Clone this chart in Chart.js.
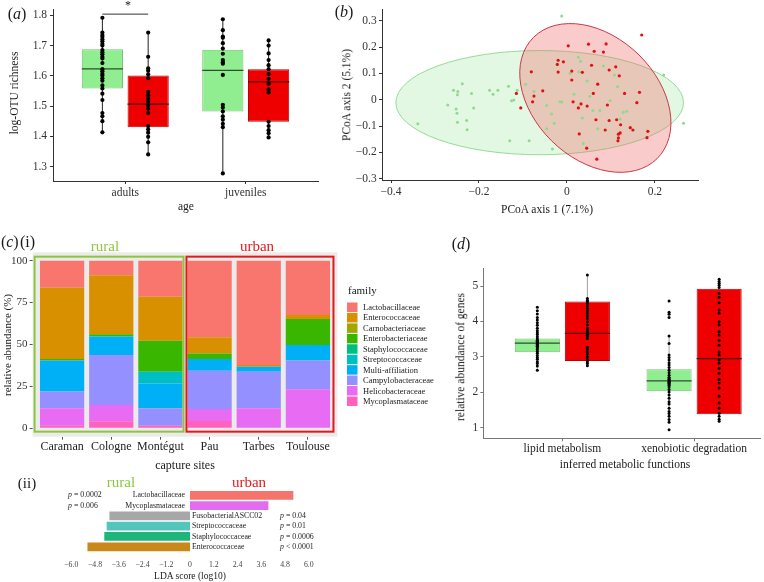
<!DOCTYPE html>
<html><head><meta charset="utf-8">
<script src="https://cdn.jsdelivr.net/npm/chart.js@4/dist/chart.umd.min.js"></script>
<style>
html,body{margin:0;padding:0;background:#fff;overflow:hidden;width:764px;height:582px;}
body{position:relative;font-family:'Liberation Serif','Times New Roman',serif;color:#1a1a1a;}
canvas{position:absolute;display:block;}
.t{position:absolute;white-space:nowrap;transform:translate(-50%,-50%);line-height:1;}
.rot{transform:translate(-50%,-50%) rotate(-90deg);}
</style></head><body>
<canvas id="ca" width="330" height="215" style="left:0;top:0"></canvas>
<canvas id="cb" width="424" height="220" style="left:340px;top:0"></canvas>
<canvas id="cc" width="445" height="240" style="left:0;top:230px"></canvas>
<canvas id="cd" width="324" height="235" style="left:440px;top:240px"></canvas>
<canvas id="ce" width="340" height="112" style="left:0;top:470px"></canvas>

<div class="t" style="left:17px;top:14px;font-size:16px">(<i>a</i>)</div>
<div class="t" style="left:128px;top:5px;font-size:12px">*</div>
<div class="t rot" style="left:15px;top:93px;font-size:11.5px">log-OTU richness</div>
<div class="t" style="left:186px;top:207px;font-size:11.5px">age</div>

<div class="t" style="left:344px;top:12px;font-size:16px">(<i>b</i>)</div>
<div class="t rot" style="left:347px;top:95px;font-size:11.5px">PCoA axis 2 (5.1%)</div>
<div class="t" style="left:547px;top:210px;font-size:11.5px">PCoA axis 1 (7.1%)</div>

<div class="t" style="left:18px;top:242px;font-size:16px">(<i>c</i>)&#8202;(i)</div>
<div class="t" style="left:105px;top:246px;font-size:15px;color:#8cc63f">rural</div>
<div class="t" style="left:257px;top:246px;font-size:15px;color:#e31a1c">urban</div>
<div class="t rot" style="left:7px;top:345px;font-size:11px">relative abundance (%)</div>
<div class="t" style="left:185px;top:465px;font-size:12px">capture sites</div>

<div class="t" style="left:461px;top:244px;font-size:16px">(<i>d</i>)</div>
<div class="t rot" style="left:461px;top:357px;font-size:11.5px">relative abundance of genes</div>
<div class="t" style="left:625px;top:465px;font-size:11.5px">inferred metabolic functions</div>

<div class="t" style="left:27px;top:483px;font-size:15px">(ii)</div>
<div class="t" style="left:121px;top:482px;font-size:15px;color:#8cc63f">rural</div>
<div class="t" style="left:249px;top:482px;font-size:15px;color:#e31a1c">urban</div>
<div class="t" style="left:190px;top:577px;font-size:9.5px">LDA score (log10)</div>

<script>
// ======================= DATA =======================
// (a) log-OTU richness by age
const ageGroups = ['adults', 'juveniles'];
const richnessTicks = [1.3, 1.4, 1.5, 1.6, 1.7, 1.8];
// box statistics per age group: [lower whisker, q1, median, q3, upper whisker]
const richnessBoxRural = [[1.413, 1.558, 1.623, 1.688, 1.792], [1.277, 1.482, 1.618, 1.686, 1.787]];
const richnessBoxUrban = [[1.340, 1.430, 1.506, 1.601, 1.743], [1.396, 1.448, 1.580, 1.622, 1.717]];
const richnessRuralAdults = [1.792,1.743,1.735,1.729,1.721,1.714,1.706,1.700,1.685,1.678,1.671,1.663,1.657,1.642,1.622,1.615,1.607,1.601,1.592,1.584,1.568,1.558,1.541,1.520,1.477,1.466,1.450,1.413];
const richnessUrbanAdults = [1.743,1.663,1.625,1.617,1.605,1.592,1.547,1.536,1.525,1.514,1.502,1.491,1.477,1.434,1.423,1.412,1.398,1.380,1.340];
const richnessRuralJuveniles = [1.787,1.751,1.730,1.726,1.708,1.690,1.673,1.652,1.645,1.640,1.603,1.504,1.495,1.482,1.466,1.455,1.441,1.430,1.277];
const richnessUrbanJuveniles = [1.717,1.700,1.674,1.652,1.635,1.622,1.606,1.590,1.574,1.555,1.545,1.448,1.434,1.420,1.410,1.396];
const richnessSignifGroup = [0];      // age group with significant difference
const richnessSignifLevel = [1.804];  // bracket height (log-OTU)

// (b) PCoA
const pcoaXTicks = [-0.4, -0.2, 0, 0.2];
const pcoaXTickLabels = ['\u22120.4', '\u22120.2', '0', '0.2'];
const pcoaYTicks = [-0.3, -0.2, -0.1, 0, 0.1, 0.2, 0.3];
const pcoaYTickLabels = ['\u22120.3', '\u22120.2', '\u22120.1', '0', '0.1', '0.2', '0.3'];
const pcoaRural = [[-0.339,-0.091],[-0.271,-0.020],[-0.258,0.036],[-0.248,0.031],[-0.249,0.019],[-0.238,0.061],[-0.217,0.024],[-0.212,-0.031],[-0.252,-0.035],[-0.250,-0.051],[-0.249,-0.086],[-0.228,-0.079],[-0.227,-0.114],[-0.176,0.036],[-0.168,0.021],[-0.157,0.036],[-0.133,0.051],[-0.126,-0.004],[-0.121,-0.001],[-0.113,0.036],[-0.130,-0.156],[-0.012,0.318],[-0.094,0.059],[-0.086,-0.156],[-0.033,-0.187],[-0.075,0.031],[-0.046,-0.022],[-0.035,-0.054],[-0.029,-0.089],[-0.046,-0.110],[-0.016,-0.008],[-0.012,-0.009],[0.026,0.161],[0.031,0.146],[0.007,0.100],[0.027,0.106],[0.046,0.071],[0.016,0.021],[0.052,0.013],[0.059,-0.041],[0.075,-0.041],[0.083,0.128],[0.108,0.094],[0.115,0.049],[0.128,-0.048],[0.136,-0.044],[0.121,-0.073],[0.070,-0.110],[0.037,-0.166],[0.220,0.094],[0.265,-0.089],[0.035,-0.069],[0.098,-0.004]];
const pcoaUrban = [[0.170,0.246],[0.003,0.205],[0.049,0.211],[0.089,0.212],[0.062,0.184],[0.083,0.181],[-0.020,0.150],[-0.008,0.144],[-0.022,0.134],[-0.020,0.105],[0.011,0.109],[0.035,0.104],[0.056,0.131],[0.111,0.125],[0.096,0.113],[0.119,0.091],[0.011,0.075],[0.070,0.059],[-0.081,0.106],[-0.115,0.024],[-0.055,0.034],[-0.075,0.014],[0.060,0.024],[0.131,0.024],[0.165,0.028],[-0.078,-0.008],[0.014,-0.008],[0.032,-0.016],[0.046,-0.024],[0.026,-0.031],[0.092,-0.020],[-0.105,-0.031],[0.159,-0.011],[0.066,-0.076],[0.096,-0.079],[0.113,-0.076],[0.122,-0.095],[0.144,-0.106],[0.150,-0.115],[0.087,-0.115],[0.184,-0.120],[0.028,-0.130],[0.117,-0.131],[0.117,-0.145],[0.121,-0.126],[0.116,-0.156],[0.182,-0.144],[0.045,-0.184],[0.068,-0.226]];
// confidence ellipses: centre and two semi-axis vectors (PCoA units)
const ellipseRuralCenter = [-0.062, -0.011];
const ellipseRuralAxes = [[0.327, 0], [0, 0.198]];
const ellipseUrbanCenter = [0.0646, 0.0068];
const ellipseUrbanAxes = [[0.1403, -0.2307], [-0.0993, -0.1633]];

// (c)(i) relative abundance per capture site
const sites = ['Caraman', 'Cologne', 'Mont\u00e9gut', 'Pau', 'Tarbes', 'Toulouse'];
const siteHabitat = ['rural', 'rural', 'rural', 'urban', 'urban', 'urban'];
const abundanceTicks = [0, 25, 50, 75, 100];
const families = ['Lactobacillaceae','Enterococcaceae','Carnobacteriaceae','Enterobacteriaceae','Staphylococcaceae','Streptococcaceae','Multi-affiliation','Campylobacteraceae','Helicobacteraceae','Mycoplasmataceae'];
const abundLactobacillaceae   = [16.1, 8.7, 21.5, 45.7, 62.2, 32.4];
const abundEnterococcaceae    = [42.5, 35.2, 26.2, 9.6, 1.0, 2.4];
const abundCarnobacteriaceae  = [0, 0, 0, 0, 0, 0];
const abundEnterobacteriaceae = [1.0, 1.4, 18.5, 3.3, 0, 15.5];
const abundStaphylococcaceae  = [0, 0, 0, 0, 0, 0];
const abundStreptococcaceae   = [0, 0, 7.0, 0, 0, 0];
const abundMultiAffiliation   = [18.5, 11.0, 14.9, 7.0, 3.0, 9.3];
const abundCampylobacteraceae = [10.0, 29.8, 10.3, 22.9, 21.9, 17.1];
const abundHelicobacteraceae  = [10.3, 9.7, 0, 7.1, 11.9, 23.3];
const abundMycoplasmataceae   = [1.6, 4.2, 1.6, 4.4, 0, 0];

// (d) inferred metabolic functions
const metabolicFunctions = ['lipid metabolism', 'xenobiotic degradation'];
const geneTicks = [1, 2, 3, 4, 5];
const geneBoxRural = [[2.62, 3.13, 3.39, 3.52, 4.11], [1.15, 2.03, 2.32, 2.65, 3.59]];
const geneBoxUrban = [[2.72, 2.88, 3.66, 4.56, 5.33], [1.15, 1.38, 2.95, 4.92, 5.20]];
const genesRuralLipid = [4.40,4.30,4.21,4.11,4.04,3.96,3.89,3.81,3.74,3.68,3.63,3.57,3.51,3.47,3.45,3.44,3.42,3.40,3.38,3.36,3.35,3.32,3.30,3.29,3.25,3.21,3.15,3.10,3.04,2.98,2.93,2.86,2.81,2.74,2.62];
const genesUrbanLipid = [5.31,4.65,4.60,4.56,4.51,4.44,4.37,4.30,4.23,4.15,4.08,3.99,3.90,3.80,3.74,3.68,3.64,3.61,3.57,3.52,3.27,3.21,3.14,3.08,3.00,2.93,2.86,2.81,2.75];
const genesRuralXeno = [4.58,4.26,4.20,4.11,3.59,3.38,3.05,2.98,2.91,2.83,2.77,2.70,2.62,2.55,2.48,2.42,2.40,2.36,2.35,2.32,2.30,2.28,2.25,2.23,2.20,2.15,2.08,2.01,1.92,1.83,1.73,1.67,1.55,1.46,1.40,1.32,1.23,1.15,0.94];
const genesUrbanXeno = [5.19,5.13,5.08,5.02,4.96,4.79,4.68,4.53,4.32,4.23,3.99,3.90,3.71,3.62,3.47,3.33,3.14,3.05,2.91,2.82,2.68,2.54,2.36,2.26,2.12,1.89,1.70,1.55,1.41,1.32,1.24,1.18];

// (c)(ii) LEfSe LDA scores
const ldaTaxa = ['Lactobacillaceae', 'Mycoplasmataceae', 'FusobacterialASCC02', 'Streptococcaceae', 'Staphylococcaceae', 'Enterococcaceae'];
const ldaScores = [5.22, 3.96, -4.07, -4.21, -4.33, -5.18];
const ldaPValues = ['= 0.0002', '= 0.006', '= 0.04', '= 0.01', '= 0.0006', '< 0.0001'];
const ldaTicks = [-6, -4.8, -3.6, -2.4, -1.2, 0, 1.2, 2.4, 3.6, 4.8, 6];
const ldaTickLabels = ['\u22126.0', '\u22124.8', '\u22123.6', '\u22122.4', '\u22121.2', '0', '1.2', '2.4', '3.6', '4.8', '6.0'];

// ======================= STYLE =======================
const SERIF = "'Liberation Serif','Times New Roman',serif";
Chart.defaults.font.family = SERIF;
Chart.defaults.color = '#333';
Chart.defaults.animation = false;
Chart.defaults.plugins.legend.display = false;
Chart.defaults.plugins.tooltip.enabled = false;

const familyColors = ['#F8766D','#D89000','#A3A500','#39B600','#00BF7D','#00BFC4','#00B0F6','#9590FF','#E76BF3','#FF62BC'];
const ldaColors = ['#F5746C','#E36CEE','#A7A7A7','#52C6BA','#1DB57A','#C8891A'];
const GREEN = {fill:'#90EE90', border:'#74c174'};
const RED = {fill:'#EE0000', border:'#b80000'};

const BOX_CAT = 0.76, BOX_BAR = 0.9;
const DODGE = BOX_CAT / 4;
const HALF_BOX = BOX_CAT * BOX_BAR / 4;

function fixedTicks(values) { return (s) => { s.ticks = values.map(v => ({value: v})); }; }

function boxDatasets(boxes, pointSets, side, st) {
  const cx = i => i + 1 + side * DODGE;
  const whisk = [], med = [], pts = [];
  boxes.forEach((b, i) => {
    whisk.push({x: cx(i), y: b[0]}, {x: cx(i), y: b[4]}, {x: cx(i), y: null});
    med.push({x: cx(i) - HALF_BOX, y: b[2]}, {x: cx(i) + HALF_BOX, y: b[2]}, {x: cx(i) + HALF_BOX, y: null});
  });
  pointSets.forEach((arr, i) => arr.forEach(v => pts.push({x: cx(i), y: v})));
  return [
    {type: 'line', data: whisk, borderColor: st.whisker, borderWidth: 1, pointRadius: 0, spanGaps: false, order: 5},
    {type: 'bar', data: boxes.map((b, i) => ({x: i + 1, y: [b[1], b[3]]})), backgroundColor: st.fill, borderColor: st.border,
     borderWidth: 1, borderSkipped: false, categoryPercentage: BOX_CAT, barPercentage: BOX_BAR, order: 4},
    {type: 'line', data: med, borderColor: st.median, borderWidth: 1.2, pointRadius: 0, spanGaps: false, order: 3},
    {type: 'scatter', data: pts, pointRadius: st.r, pointBackgroundColor: '#000', pointBorderWidth: 0, order: 2}
  ];
}

function axisCommon(color) {
  return {
    grid: {display: true, drawOnChartArea: false, drawTicks: true, tickLength: 3, color: color, offset: false},
    border: {display: true, color: color, width: 1}
  };
}

// ======================= (a) =======================
const sigData = [];
richnessSignifGroup.forEach((g, k) => {
  sigData.push({x: g + 1 - DODGE, y: richnessSignifLevel[k]}, {x: g + 1 + DODGE, y: richnessSignifLevel[k]}, {x: g + 1 + DODGE, y: null});
});
new Chart(document.getElementById('ca'), {
  type: 'bar',
  data: {datasets: [
    ...boxDatasets(richnessBoxRural, [richnessRuralAdults, richnessRuralJuveniles], -1, {...GREEN, whisker: '#222', median: '#2d4f2d', r: 2.1}),
    ...boxDatasets(richnessBoxUrban, [richnessUrbanAdults, richnessUrbanJuveniles], 1, {...RED, whisker: '#222', median: '#5a0000', r: 2.1}),
    {type: 'line', data: sigData, borderColor: '#333', borderWidth: 1, pointRadius: 0, spanGaps: false, order: 1, clip: false}
  ]},
  options: {
    responsive: false, devicePixelRatio: 1,
    layout: {padding: {left: 0, top: 6, right: 12, bottom: 14}},
    scales: {
      x: {type: 'linear', min: 0.4, max: 2.6, offset: false, ...axisCommon('#333'),
          afterBuildTicks: fixedTicks(ageGroups.map((_, i) => i + 1)),
          afterFit: s => { s.height = 20; },
          ticks: {autoSkip: false, maxRotation: 0, padding: 2.5, font: {size: 11.5}, color: '#333', callback: (v, i) => ageGroups[i]}},
      y: {type: 'linear', min: 1.252, max: 1.818, ...axisCommon('#333'),
          afterBuildTicks: fixedTicks(richnessTicks),
          afterFit: s => { s.width = 53; },
          ticks: {padding: 3, font: {size: 11.5}, color: '#333', callback: v => v.toFixed(1)}}
    }
  }
});

// ======================= (b) =======================
const ellipsePlugin = {
  id: 'ellipses',
  beforeDatasetsDraw(chart, args, opts) {
    const {ctx, scales: {x, y}, chartArea: a} = chart;
    ctx.save();
    ctx.beginPath(); ctx.rect(a.left, a.top, a.right - a.left, a.bottom - a.top); ctx.clip();
    opts.items.forEach(e => {
      const cx = x.getPixelForValue(e.center[0]), cy = y.getPixelForValue(e.center[1]);
      const ax = x.getPixelForValue(e.center[0] + e.axes[0][0]) - cx, ay = y.getPixelForValue(e.center[1] + e.axes[0][1]) - cy;
      const bx = x.getPixelForValue(e.center[0] + e.axes[1][0]) - cx, by = y.getPixelForValue(e.center[1] + e.axes[1][1]) - cy;
      ctx.save(); ctx.beginPath(); ctx.transform(ax, ay, bx, by, cx, cy); ctx.arc(0, 0, 1, 0, Math.PI * 2); ctx.restore();
      ctx.fillStyle = e.fill; ctx.fill();
      ctx.strokeStyle = e.stroke; ctx.lineWidth = 1; ctx.stroke();
    });
    ctx.restore();
  }
};
new Chart(document.getElementById('cb'), {
  type: 'scatter',
  data: {datasets: [
    {data: pcoaRural.map(p => ({x: p[0], y: p[1]})), pointRadius: 1.5, pointBackgroundColor: '#8fda8f', pointBorderWidth: 0, order: 2},
    {data: pcoaUrban.map(p => ({x: p[0], y: p[1]})), pointRadius: 1.6, pointBackgroundColor: '#dd1111', pointBorderWidth: 0, order: 1}
  ]},
  plugins: [ellipsePlugin],
  options: {
    responsive: false, devicePixelRatio: 1,
    layout: {padding: {left: 12, top: 7, right: 66, bottom: 20}},
    plugins: {ellipses: {items: [
      {center: ellipseRuralCenter, axes: ellipseRuralAxes, fill: 'rgba(150,230,150,0.28)', stroke: 'rgba(140,215,140,0.9)'},
      {center: ellipseUrbanCenter, axes: ellipseUrbanAxes, fill: 'rgba(240,110,110,0.36)', stroke: '#c73a45'}
    ]}},
    scales: {
      x: {type: 'linear', min: -0.4205, max: 0.298, ...axisCommon('#333'),
          afterBuildTicks: fixedTicks(pcoaXTicks),
          afterFit: s => { s.height = 20; },
          ticks: {autoSkip: false, maxRotation: 0, padding: 2, font: {size: 11.5}, color: '#333', callback: (v, i) => pcoaXTickLabels[i]}},
      y: {type: 'linear', min: -0.305, max: 0.344, ...axisCommon('#333'),
          afterBuildTicks: fixedTicks(pcoaYTicks),
          afterFit: s => { s.width = 30; },
          ticks: {padding: 2.3, font: {size: 11.5}, color: '#333', callback: (v, i) => pcoaYTickLabels[i]}}
    }
  }
});

// ======================= (c)(i) =======================
const abundanceByFamily = [abundLactobacillaceae, abundEnterococcaceae, abundCarnobacteriaceae, abundEnterobacteriaceae,
  abundStaphylococcaceae, abundStreptococcaceae, abundMultiAffiliation, abundCampylobacteraceae, abundHelicobacteraceae, abundMycoplasmataceae];
const panelPlugin = {
  id: 'panel',
  beforeDatasetsDraw(chart, args, opts) {
    const {ctx, chartArea: a} = chart;
    ctx.save(); ctx.fillStyle = opts.bg; ctx.fillRect(a.left, a.top, a.right - a.left, a.bottom - a.top); ctx.restore();
  },
  afterDatasetsDraw(chart, args, opts) {
    const {ctx, scales: {x, y}} = chart;
    ctx.save();
    opts.frames.forEach(f => {
      const idx = siteHabitat.map((h, i) => h === f.habitat ? i : -1).filter(i => i >= 0);
      const x0 = x.getPixelForValue(Math.min(...idx) - f.padL), x1 = x.getPixelForValue(Math.max(...idx) + f.padR);
      const y0 = y.getPixelForValue(f.top), y1 = y.getPixelForValue(f.bottom);
      ctx.strokeStyle = f.color; ctx.lineWidth = 2; ctx.strokeRect(x0, y0, x1 - x0, y1 - y0);
    });
    ctx.restore();
  },
  afterDraw(chart, args, opts) {
    // legend generated from the datasets, top of the stack listed first
    const {ctx} = chart;
    const L = opts.legend;
    ctx.save();
    ctx.textBaseline = 'middle'; ctx.textAlign = 'left';
    ctx.fillStyle = '#1a1a1a';
    ctx.font = L.titleSize + 'px ' + SERIF;
    ctx.fillText(L.title, L.x + 1, L.titleY);
    ctx.font = L.size + 'px ' + SERIF;
    chart.data.datasets.slice().reverse().forEach((ds, k) => {
      const top = L.y + k * L.step;
      ctx.fillStyle = ds.backgroundColor;
      ctx.fillRect(L.x, top, L.box[0], L.box[1]);
      ctx.fillStyle = '#1a1a1a';
      ctx.fillText(ds.label, L.x + L.textGap, top + L.box[1] / 2 + 0.5);
    });
    ctx.restore();
  }
};
const stackDatasets = families.map((fam, k) => ({
  label: fam,
  data: abundanceByFamily[k].map((v, i) => ({x: i, y: v})),
  backgroundColor: familyColors[k], borderWidth: 0, stack: 'all',
  categoryPercentage: 1, barPercentage: 0.9
})).reverse();
new Chart(document.getElementById('cc'), {
  type: 'bar',
  data: {datasets: stackDatasets},
  plugins: [panelPlugin],
  options: {
    responsive: false, devicePixelRatio: 1,
    layout: {padding: {left: 2.6, top: 22.3, right: 107.6, bottom: 11.3}},
    plugins: {panel: {bg: '#EBEBEB',
      frames: [
        {habitat: 'rural', color: '#8cc63f', padL: 0.56, padR: 0.47, top: 102.4, bottom: -2.0},
        {habitat: 'urban', color: '#e31a1c', padL: 0.47, padR: 0.52, top: 102.4, bottom: -2.0}
      ],
      legend: {title: 'family', titleSize: 11, titleY: 61, x: 347, y: 72.5, step: 10.44, box: [10.5, 9.5], textGap: 16, size: 8.5}
    }},
    scales: {
      x: {type: 'linear', min: -0.6, max: 5.6, offset: false,
          grid: {display: true, drawOnChartArea: false, drawTicks: true, tickLength: 3, color: '#555', offset: false},
          border: {display: false},
          afterBuildTicks: fixedTicks(sites.map((_, i) => i)),
          afterFit: s => { s.height = 22; },
          ticks: {autoSkip: false, maxRotation: 0, padding: 0, font: {size: 12}, color: '#222', callback: (v, i) => sites[i]}},
      y: {type: 'linear', min: -5, max: 105, stacked: true,
          grid: {display: true, drawOnChartArea: false, drawTicks: true, tickLength: 3, color: '#555'},
          border: {display: false},
          afterBuildTicks: fixedTicks(abundanceTicks),
          afterFit: s => { s.width = 30; },
          ticks: {padding: 2, font: {size: 11}, color: '#333', callback: v => String(v)}}
    }
  }
});

// ======================= (d) =======================
new Chart(document.getElementById('cd'), {
  type: 'bar',
  data: {datasets: [
    ...boxDatasets(geneBoxRural, [genesRuralLipid, genesRuralXeno], -1, {...GREEN, whisker: '#a0a0a0', median: '#2d4f2d', r: 1.5}),
    ...boxDatasets(geneBoxUrban, [genesUrbanLipid, genesUrbanXeno], 1, {...RED, whisker: '#a0a0a0', median: '#5a0000', r: 1.5})
  ]},
  options: {
    responsive: false, devicePixelRatio: 1,
    layout: {padding: {left: 18.3, top: 28.3, right: 1, bottom: 16.7}},
    scales: {
      x: {type: 'linear', min: 0.4, max: 2.5, offset: false, ...axisCommon('#777'),
          afterBuildTicks: fixedTicks(metabolicFunctions.map((_, i) => i + 1)),
          afterFit: s => { s.height = 20; },
          ticks: {autoSkip: false, maxRotation: 0, padding: 1, font: {size: 11.5}, color: '#222', callback: (v, i) => metabolicFunctions[i]}},
      y: {type: 'linear', min: 0.70, max: 5.50, ...axisCommon('#777'),
          afterBuildTicks: fixedTicks(geneTicks),
          afterFit: s => { s.width = 25; },
          ticks: {padding: 2, font: {size: 11.5}, color: '#333', callback: v => String(v)}}
    }
  }
});

// ======================= (c)(ii) =======================
const ldaLabelPlugin = {
  id: 'ldaLabels',
  afterDatasetsDraw(chart, args, opts) {
    const {ctx, scales: {x, y}} = chart;
    ctx.save();
    ctx.textBaseline = 'middle';
    ctx.fillStyle = '#222';
    ldaTaxa.forEach((name, i) => {
      const yy = y.getPixelForValue(i);
      const pos = ldaScores[i] > 0;
      ctx.font = opts.size + 'px ' + SERIF;
      ctx.textAlign = pos ? 'right' : 'left';
      ctx.fillText(name, x.getPixelForValue(0) + (pos ? -5 : 2), yy);
      const px = x.getPixelForValue(pos ? opts.pLeft : opts.pRight);
      ctx.textAlign = 'left';
      ctx.font = 'italic ' + opts.size + 'px ' + SERIF;
      ctx.fillText('p', px, yy);
      const w = ctx.measureText('p ').width;
      ctx.font = opts.size + 'px ' + SERIF;
      ctx.fillText(ldaPValues[i], px + w, yy);
    });
    ctx.restore();
  }
};
new Chart(document.getElementById('ce'), {
  type: 'bar',
  data: {labels: ldaTaxa, datasets: [{data: ldaScores, backgroundColor: ldaColors, borderWidth: 0, categoryPercentage: 1, barPercentage: 0.85}]},
  plugins: [ldaLabelPlugin],
  options: {
    responsive: false, devicePixelRatio: 1, indexAxis: 'y',
    layout: {padding: {left: 65.3, top: 20.2, right: 25.3, bottom: 12.1}},
    plugins: {ldaLabels: {size: 7.8, pLeft: -6.16, pRight: 4.55}},
    scales: {
      y: {type: 'category', display: false, offset: true},
      x: {type: 'linear', min: -6.3, max: 6.3,
          grid: {display: false, drawTicks: false}, border: {display: false},
          afterBuildTicks: fixedTicks(ldaTicks),
          afterFit: s => { s.height = 18; },
          ticks: {autoSkip: false, maxRotation: 0, padding: 8, font: {size: 7.8}, color: '#444', callback: (v, i) => ldaTickLabels[i]}}
    }
  }
});
</script>
</body></html>
